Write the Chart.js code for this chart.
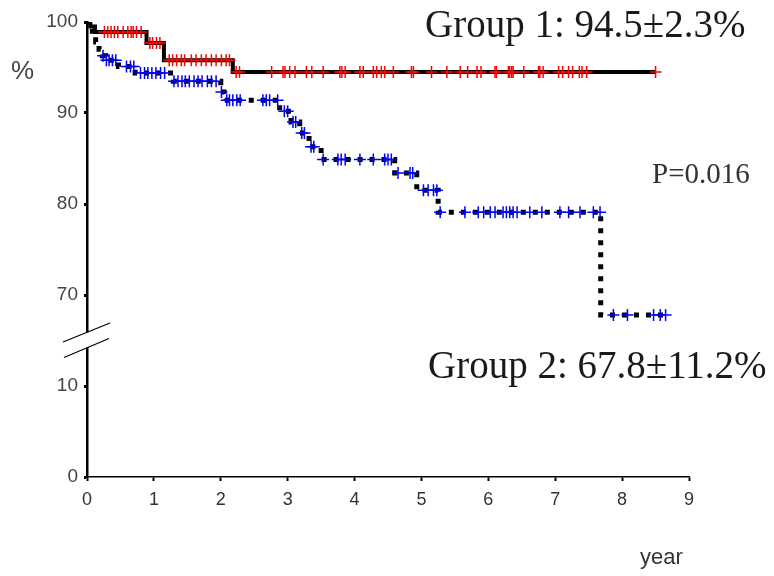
<!DOCTYPE html>
<html>
<head>
<meta charset="utf-8">
<script src="https://cdn.jsdelivr.net/npm/chart.js@4/dist/chart.umd.min.js"></script>
<style>
  html, body { margin: 0; padding: 0; background: #ffffff; }
  #wrap { width: 774px; height: 576px; }
</style>
</head>
<body>
<div id="wrap"><canvas id="km" width="774" height="576"></canvas></div>
<script>
// Kaplan-Meier survival steps: time (years) of each event and survival (%) after it
const group1Times = [0, 0.05, 0.12, 0.89, 1.15, 2.18, 8.50];
const group1Surv  = [100, 99.5, 98.9, 97.7, 95.8, 94.5, 94.5];

const group2Times = [0, 0.03, 0.08, 0.13, 0.18, 0.23, 0.28, 0.47, 0.72, 1.29, 2.00, 2.05,
                     2.88, 3.05, 3.18, 3.32, 3.50, 4.60, 4.93, 5.25, 7.68, 8.65];
const group2Surv  = [100, 99.3, 98.6, 97.8, 97.0, 96.3, 95.8, 95.1, 94.4, 93.5, 92.3, 91.4,
                     90.2, 89.0, 87.8, 86.3, 84.9, 83.4, 81.5, 79.1, 67.8, 67.8];

// Censored observations (years)
const group1Censored = [0.26, 0.31, 0.36, 0.41, 0.46, 0.54, 0.61, 0.66, 0.69, 0.74, 0.81,
  0.94, 0.98, 1.04, 1.09,
  1.23, 1.28, 1.34, 1.41, 1.46, 1.56, 1.63, 1.71, 1.78, 1.86, 1.93, 2.01, 2.08, 2.13,
  2.23, 2.28, 2.76, 2.93, 2.96, 3.03, 3.11, 3.28, 3.36, 3.53, 3.78, 3.81, 3.86, 4.08, 4.13,
  4.28, 4.33, 4.40, 4.45, 4.58, 4.85, 4.88, 5.15, 5.38, 5.58, 5.69, 5.83, 5.89, 6.10, 6.12,
  6.30, 6.32, 6.35, 6.37, 6.53, 6.75, 6.77, 6.82, 7.05, 7.11, 7.20, 7.26, 7.36, 7.40, 7.47, 8.50];

const group2Censored = [0.24, 0.29, 0.33, 0.38, 0.43,
  0.59, 0.65, 0.70,
  0.80, 0.86, 0.91, 0.97, 1.03, 1.10, 1.16,
  1.30, 1.36, 1.42, 1.47, 1.53, 1.60, 1.66, 1.72, 1.80, 1.86, 1.93,
  2.01,
  2.09, 2.13, 2.18, 2.24, 2.29, 2.63, 2.68, 2.73, 2.85,
  2.95, 3.00, 3.08, 3.12, 3.21, 3.25, 3.35, 3.39,
  3.53, 3.75, 3.80, 3.86, 4.08, 4.28, 4.45, 4.50, 4.55,
  4.65, 4.83, 4.87,
  5.03, 5.10, 5.18, 5.23,
  5.28, 5.65, 5.85, 5.93, 6.03, 6.10, 6.22, 6.27, 6.32, 6.37, 6.43, 6.62, 6.80, 7.07, 7.20, 7.37, 7.57,
  7.67, 7.87, 8.08, 8.47, 8.57, 8.65];

// Y axis is broken between 10 and 70: tick positions 0..50 carry these labels
const yTickLabels = ['0', '10', '70', '80', '90', '100'];
const xTickLabels = ['0', '1', '2', '3', '4', '5', '6', '7', '8', '9'];

const summaryGroup1 = 'Group 1: 94.5\u00B12.3%';
const summaryGroup2 = 'Group 2: 67.8\u00B111.2%';
const pValueText = 'P=0.016';

// Map a survival percentage onto the broken axis (the upper segment starts at 60)
function toAxis(v) { return v > 40 ? v - 50 : v; }

function stepPoints(times, surv) {
  return times.map((t, i) => ({ x: t, y: toAxis(surv[i]) }));
}

// Survival level in effect at time t
function levelAt(times, surv, t) {
  let s = surv[0];
  for (let i = 0; i < times.length; i++) { if (times[i] <= t) s = surv[i]; }
  return s;
}

function censorPoints(cens, times, surv) {
  return cens.map(t => ({ x: t, y: toAxis(levelAt(times, surv, t)) }));
}

const axisBreak = {
  id: 'axisBreak',
  afterDraw(chart) {
    const ctx = chart.ctx;
    const y = chart.scales.y.getPixelForValue(15);
    const x = chart.scales.x.getPixelForValue(0);
    ctx.save();
    ctx.fillStyle = '#ffffff';
    ctx.fillRect(x - 3, y - 8, 6, 15);
    ctx.strokeStyle = '#000000';
    ctx.lineWidth = 1.2;
    ctx.beginPath();
    ctx.moveTo(x - 24, y + 1.5); ctx.lineTo(x + 23, y - 17.5);
    ctx.moveTo(x - 23, y + 17);  ctx.lineTo(x + 22, y - 2);
    ctx.stroke();
    ctx.restore();
  }
};

const annotations = {
  id: 'annotations',
  afterDraw(chart) {
    const ctx = chart.ctx;
    ctx.save();
    ctx.textBaseline = 'alphabetic';
    ctx.textAlign = 'left';
    ctx.fillStyle = '#1a1a1a';
    ctx.font = '39px "Liberation Serif", "Times New Roman", serif';
    ctx.fillText(summaryGroup1, 425, 37);
    ctx.fillText(summaryGroup2, 428, 378);
    ctx.fillStyle = '#333333';
    ctx.font = '29px "Liberation Serif", "Times New Roman", serif';
    ctx.fillText(pValueText, 652, 183);
    ctx.fillStyle = '#444444';
    ctx.font = '26px "Liberation Sans", Arial, sans-serif';
    ctx.fillText('%', 11, 79);
    ctx.font = '22px "Liberation Sans Narrow", "Liberation Sans", Arial, sans-serif';
    ctx.fillStyle = '#333333';
    ctx.fillText('year', 640, 564);
    ctx.restore();
  }
};

new Chart(document.getElementById('km'), {
  type: 'scatter',
  data: {
    datasets: [
      {
        label: 'Group 1 censored',
        data: censorPoints(group1Censored, group1Times, group1Surv),
        pointStyle: 'cross', pointRadius: 6, pointBorderWidth: 1.5,
        pointBorderColor: '#ff0000', pointBackgroundColor: '#ff0000',
        showLine: false, order: 0
      },
      {
        label: 'Group 2 censored',
        data: censorPoints(group2Censored, group2Times, group2Surv),
        pointStyle: 'cross', pointRadius: 6, pointBorderWidth: 1.5,
        pointBorderColor: '#0000ff', pointBackgroundColor: '#0000ff',
        showLine: false, order: 0
      },
      {
        label: 'Group 1',
        data: stepPoints(group1Times, group1Surv),
        showLine: true, stepped: 'before',
        borderColor: '#000000', borderWidth: 4,
        pointRadius: 0, fill: false, order: 1
      },
      {
        label: 'Group 2',
        data: stepPoints(group2Times, group2Surv),
        showLine: true, stepped: 'before',
        borderColor: '#000000', borderWidth: 5,
        borderDash: [5, 7], borderCapStyle: 'butt',
        pointRadius: 0, fill: false, order: 1
      }
    ]
  },
  options: {
    responsive: false,
    animation: false,
    layout: { padding: { top: 22, right: 85, left: 0, bottom: 0 } },
    plugins: { legend: { display: false }, tooltip: { enabled: false } },
    scales: {
      x: {
        type: 'linear', min: 0, max: 9,
        afterFit(scale) { scale.height = 99; },
        border: { display: true, color: '#000000', width: 1.5 },
        grid: { drawOnChartArea: false, drawTicks: true, tickLength: 4, tickWidth: 2, tickColor: '#000000' },
        ticks: {
          stepSize: 1, padding: 8, color: '#333333',
          font: { family: '"Liberation Sans Narrow", "Liberation Sans", Arial, sans-serif', size: 18 },
          callback: (v) => xTickLabels[v] ?? ''
        }
      },
      y: {
        type: 'linear', min: 0, max: 50,
        afterFit(scale) { scale.width = 87; },
        border: { display: true, color: '#000000', width: 2.5 },
        grid: { drawOnChartArea: false, drawTicks: true, tickLength: 3, tickWidth: 3, tickColor: '#000000' },
        ticks: {
          stepSize: 10, padding: 6, color: '#444444',
          font: { family: '"Liberation Sans", Arial, sans-serif', size: 19 },
          callback: (v) => yTickLabels[v / 10] ?? ''
        }
      }
    }
  },
  plugins: [axisBreak, annotations]
});
</script>
</body>
</html>
